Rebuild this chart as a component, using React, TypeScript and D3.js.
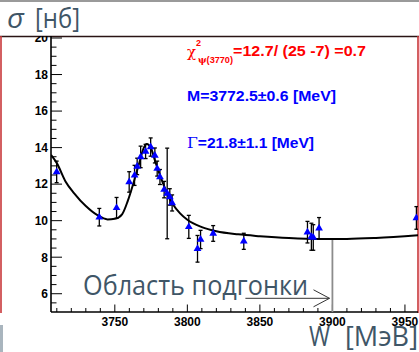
import React from "react";
import * as d3 from "d3";

// measured cross sections (blue triangles)
const energies = [3709.9, 3739.3, 3751.2, 3759.9, 3763.6, 3765.4, 3767.8, 3771.2, 3774.7, 3777.6, 3779.2, 3781.1, 3784.0, 3786.1, 3787.9, 3789.5, 3801.0, 3807.0, 3809.1, 3817.8, 3838.9, 3882.8, 3885.5, 3886.8, 3890.8, 3957.9];
const sigmaValues = [12.67, 10.19, 10.70, 12.12, 12.48, 12.97, 13.49, 13.79, 14.03, 13.57, 12.85, 12.39, 11.70, 11.49, 11.30, 10.97, 9.66, 8.46, 8.97, 9.30, 8.87, 9.37, 9.12, 9.08, 9.58, 10.15];
const sigmaErrors = [0.59, 0.48, 0.57, 0.56, 0.55, 0.45, 0.59, 0.39, 0.50, 0.41, 0.41, 0.41, 0.45, 2.48, 0.45, 0.44, 0.63, 0.73, 0.50, 0.43, 0.44, 0.59, 0.74, 0.70, 0.59, 0.62];

// fit curve
const fitEnergies = [3706, 3710, 3716, 3722, 3730, 3738, 3745, 3750, 3755, 3759, 3763, 3767, 3770, 3772, 3775, 3778, 3782, 3786, 3790, 3795, 3800, 3810, 3820, 3835, 3850, 3870, 3890, 3910, 3930, 3959];
const fitValues = [13.6, 13.15, 12.15, 11.5, 10.8, 10.3, 10.07, 10.1, 10.35, 11.1, 12.1, 13.2, 14.0, 14.2, 13.95, 13.2, 12.3, 11.5, 10.9, 10.4, 10.05, 9.65, 9.42, 9.25, 9.15, 9.05, 9.0, 9.0, 9.05, 9.2];

const xTickLabels = [3750, 3800, 3850, 3900, 3950];
const yTickLabels = [6, 8, 10, 12, 14, 16, 18, 20];
const fitLimit = 3900;

const slate = "#3f5667";
const tickFont = "'Liberation Sans', Arial, sans-serif";
const titleFont = "'Open Sans', 'Noto Sans', sans-serif";

export default function App() {
  const width = 419;
  const height = 352;
  const x = d3.scaleLinear().domain([3706, 3959]).range([51, 418]);
  const y = d3.scaleLinear().domain([5, 20]).range([312, 38]);

  const xMinor = d3.range(3710, 3960, 10);
  const yMinor = d3.range(5.5, 20.01, 0.5);

  const fitPts: [number, number][] = fitEnergies.map((e, i) => [x(e), y(fitValues[i])]);
  const line = d3.line().curve(d3.curveMonotoneX)(fitPts) || "";
  const tri = d3.symbol().type(d3.symbolTriangle).size(26)() || "";

  const fitAt = (e: number) => {
    const i = fitEnergies.findIndex((v) => v >= e);
    const e0 = fitEnergies[i - 1], e1 = fitEnergies[i];
    const t = (e - e0) / (e1 - e0);
    return fitValues[i - 1] + t * (fitValues[i] - fitValues[i - 1]);
  };

  const arrowY = y(5.75);
  const arrowX0 = x(3840);
  const arrowX1 = x(3898);

  return (
    <div style={{ position: "fixed", left: 0, top: 0, width, height, background: "#fff" }}>
      <svg width={width} height={height} style={{ display: "block" }}>
        <defs>
          <clipPath id="plotclip">
            <rect x={51} y={36} width={367} height={276} />
          </clipPath>
          <clipPath id="frameclip">
            <rect x={0} y={36} width={419} height={316} />
          </clipPath>
        </defs>
        <rect x={0} y={0} width={width} height={height} fill="#fff" />
        {/* top gray rule */}
        <rect x={0} y={0} width={width} height={2} fill="#9a9a9a" />
        {/* canvas frame */}
        <line x1={0} x2={419} y1={36.5} y2={36.5} stroke="#2a1414" strokeWidth={1.3} />
        <line x1={1} x2={1} y1={36} y2={313} stroke="#c8383a" strokeWidth={1.6} />
        <line x1={418} x2={418} y1={36} y2={313} stroke="#c8383a" strokeWidth={1.6} />
        {/* bottom-left slate bar */}
        <rect x={0} y={325} width={3} height={27} fill="#a9b5be" />

        {/* axes */}
        <line x1={51} x2={51} y1={36} y2={312} stroke="#000" strokeWidth={1.6} />
        <line x1={51} x2={418} y1={312} y2={312} stroke="#000" strokeWidth={1.6} />
        {yMinor.map((v) => {
          const major = Math.abs(v % 2) < 1e-6;
          return (
            <line key={"yt" + v} x1={51} x2={51 + (major ? 11 : 5.5)} y1={y(v)} y2={y(v)} stroke="#000" strokeWidth={1} />
          );
        })}
        {xMinor.map((v) => {
          const major = v % 50 === 0;
          return (
            <line key={"xt" + v} x1={x(v)} x2={x(v)} y1={312} y2={312 - (major ? 7.5 : 4)} stroke="#000" strokeWidth={1} />
          );
        })}
        <g clipPath="url(#frameclip)">
          {yTickLabels.map((v) => (
            <text key={"yl" + v} x={48} y={y(v) + 4.3} textAnchor="end" fontFamily={tickFont} fontWeight="bold" fontSize={12} fill="#000">
              {v}
            </text>
          ))}
        </g>
        {xTickLabels.map((v) => (
          <text key={"xl" + v} x={x(v)} y={325.5} textAnchor="middle" fontFamily={tickFont} fontWeight="bold" fontSize={12} fill="#000">
            {v}
          </text>
        ))}

        {/* fit limit marker */}
        <line x1={x(fitLimit)} x2={x(fitLimit)} y1={y(fitAt(fitLimit))} y2={312} stroke="#8c8c8c" strokeWidth={1.8} />

        {/* data */}
        <g clipPath="url(#plotclip)">
          {energies.map((e, i) => {
            const cx = x(e);
            const y0 = y(sigmaValues[i] - sigmaErrors[i]);
            const y1 = y(sigmaValues[i] + sigmaErrors[i]);
            return (
              <g key={"e" + i} stroke="#000" strokeWidth={1.3}>
                <line x1={cx} x2={cx} y1={y0} y2={y1} />
                <line x1={cx - 2} x2={cx + 2} y1={y0} y2={y0} />
                <line x1={cx - 2} x2={cx + 2} y1={y1} y2={y1} />
              </g>
            );
          })}
          <path d={line} fill="none" stroke="#000" strokeWidth={2} />
          {energies.map((e, i) => (
            <path key={"m" + i} d={tri} transform={`translate(${x(e)},${y(sigmaValues[i])})`} fill="#0000ff" />
          ))}
        </g>

        {/* fit results */}
        <g fontFamily={tickFont} fontWeight="bold">
          <text x={187} y={57} fontSize={15} fill="#ff0000" fontFamily="'DejaVu Serif', serif" fontWeight="normal">χ</text>
          <text x={196} y={46} fontSize={9} fill="#ff0000">2</text>
          <text x={198} y={63} fontSize={9} fill="#ff0000" textLength={35} lengthAdjust="spacingAndGlyphs">
            <tspan fontFamily="'DejaVu Serif', serif">ψ</tspan>(3770)
          </text>
          <text x={233} y={56} fontSize={14} fill="#ff0000" textLength={133} lengthAdjust="spacingAndGlyphs">=12.7/ (25 -7) =0.7</text>
          <text x={187} y={101} fontSize={14} fill="#0000ff" textLength={149} lengthAdjust="spacingAndGlyphs">M=3772.5±0.6 [MeV]</text>
          <text x={187} y={148} fontSize={14} fill="#0000ff" textLength={127} lengthAdjust="spacingAndGlyphs">
            <tspan fontFamily="'DejaVu Serif', serif" fontWeight="normal">Γ</tspan>=21.8±1.1 [MeV]
          </text>
        </g>

        {/* annotation */}
        <text x={83} y={295} fontFamily={titleFont} fontSize={27} fill={slate} textLength={225} lengthAdjust="spacingAndGlyphs">
          Область подгонки
        </text>
        <g stroke="#333" strokeWidth={1} fill="none">
          <line x1={arrowX0} x2={arrowX1} y1={arrowY} y2={arrowY} />
          <polyline points={`${arrowX1 - 16},${arrowY - 8.5} ${arrowX1},${arrowY} ${arrowX1 - 16},${arrowY + 8.5}`} />
        </g>

        {/* axis titles */}
        <text x={7} y={28} fontFamily={titleFont} fontSize={28} fontStyle="italic" fill={slate} textLength={17} lengthAdjust="spacingAndGlyphs">σ</text>
        <text x={35} y={28} fontFamily={titleFont} fontSize={28} fill={slate} textLength={45} lengthAdjust="spacingAndGlyphs">[нб]</text>
        <text x={309} y={346} fontFamily={titleFont} fontSize={28} fill={slate} textLength={21} lengthAdjust="spacingAndGlyphs">W</text>
        <text x={345} y={346} fontFamily={titleFont} fontSize={28} fill={slate} textLength={73} lengthAdjust="spacingAndGlyphs">[МэВ]</text>
      </svg>
    </div>
  );
}
